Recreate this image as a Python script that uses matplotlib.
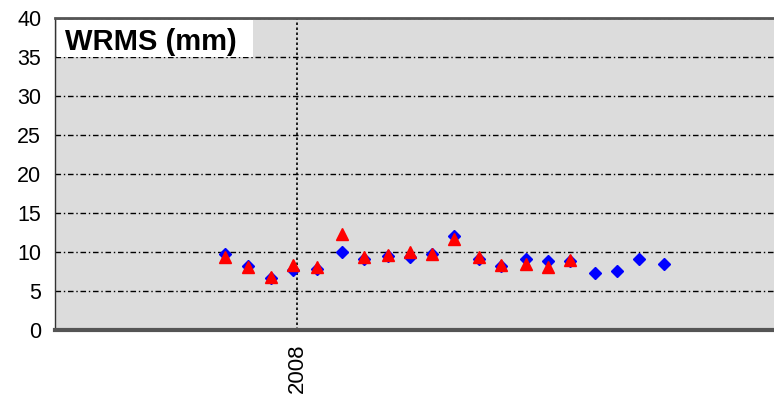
import numpy as np
import matplotlib
matplotlib.use('Agg')
import matplotlib.pyplot as plt
from matplotlib.patches import Rectangle

plt.rcParams['font.family'] = ['Liberation Sans', 'DejaVu Sans']

# Monthly epochs (decimal years) and WRMS of the two solutions
epochs = [2007.737, 2007.82, 2007.905, 2007.985, 2008.07, 2008.16, 2008.24,
          2008.33, 2008.41, 2008.49, 2008.57, 2008.66, 2008.74, 2008.83,
          2008.91, 2008.99, 2009.08, 2009.16, 2009.24, 2009.33]
wrms_blue = [9.8, 8.2, 6.7, 7.7, 7.8, 10.0, 9.1, 9.5, 9.4, 9.8, 12.0, 9.1,
             8.2, 9.1, 8.8, 8.8, 7.3, 7.6, 9.1, 8.5]
wrms_red = [9.4, 8.1, 6.8, 8.3, 8.1, 12.3, 9.3, 9.6, 10.0, 9.7, 11.7, 9.3,
            8.3, 8.5, 8.1, 9.0]
year_ticks = [2008]
y_ticks = [0, 5, 10, 15, 20, 25, 30, 35, 40]

fig = plt.figure(figsize=(7.74, 3.98), dpi=100)
ax = fig.add_axes([0.0711, 0.1709, 0.9289, 0.7839])
ax.set_facecolor('#dcdcdc')

ax.plot(epochs, wrms_blue, linestyle='none', marker='D', ms=6.5,
        color='#0000ff', zorder=3)
ax.plot(epochs[:len(wrms_red)], wrms_red, linestyle='none', marker='^',
        ms=8, color='#ff0000', zorder=4)

ax.set_xlim(2007.12, 2009.73)
ax.set_ylim(0, 40)
ax.set_yticks(y_ticks)
ax.set_xticks(year_ticks)
ax.set_xticklabels([str(y) for y in year_ticks], rotation=90, fontsize=16)
ax.tick_params(axis='y', length=0, pad=10, labelsize=15.5)
ax.tick_params(axis='x', length=0, pad=10)

ax.grid(axis='y', color='black', linestyle=(0, (4, 2, 1, 2)), linewidth=1)
ax.grid(axis='x', color='black', linestyle=(0, (1.5, 1.5)), linewidth=1.2)
ax.set_axisbelow(True)

ax.spines['right'].set_visible(False)
ax.spines['left'].set_color('#333333')
ax.spines['left'].set_linewidth(1)
ax.spines['top'].set_color('#555555')
ax.spines['top'].set_linewidth(2)
ax.spines['bottom'].set_color('#555555')
ax.spines['bottom'].set_linewidth(3)

# white title box in the upper left corner
ax.add_patch(Rectangle((0.003, 0.875), 0.273, 0.119, transform=ax.transAxes,
                       facecolor='white', edgecolor='none', zorder=5))
ax.text(0.0139, 0.897, 'WRMS (mm)', transform=ax.transAxes, fontsize=21,
        fontweight='bold', va='baseline', ha='left', zorder=6)

fig.savefig('out.png', dpi=100)
